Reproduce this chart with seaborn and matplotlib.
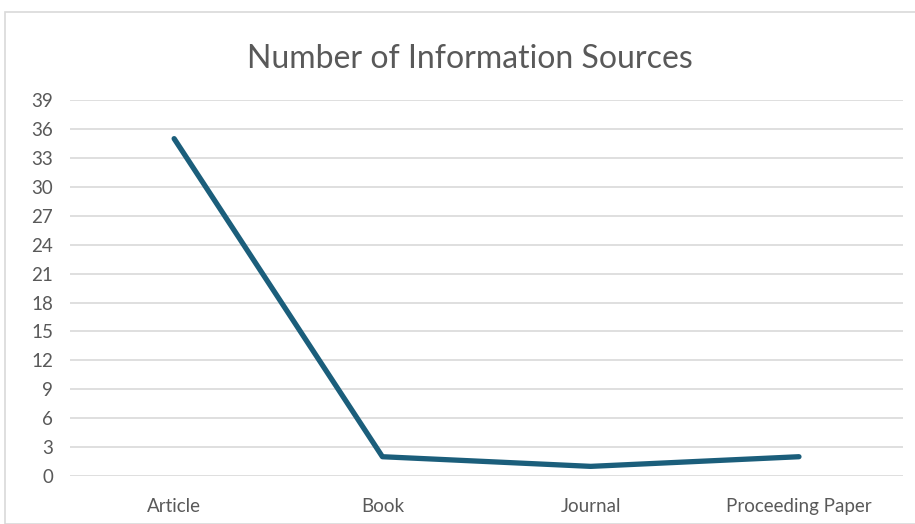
import numpy as np
import pandas as pd
import matplotlib
matplotlib.use("Agg")
import matplotlib.pyplot as plt
import seaborn as sns
from matplotlib.patches import Rectangle

# chart data
categories = ["Article", "Book", "Journal", "Proceeding Paper"]
counts = [35, 2, 1, 2]
y_ticks = list(range(0, 40, 3))

df = pd.DataFrame({"Source": categories, "Count": counts})

sns.set_theme(style="white")
plt.rcParams["font.family"] = ["Lato", "DejaVu Sans"]

fig = plt.figure(figsize=(9.15, 5.24), dpi=100)
ax = fig.add_axes([0.0765, 0.0916, 0.9105, 0.7174])

# outer chart border like the office chart frame
fig.patches.append(Rectangle((5 / 915, 0), 1.0, 1 - 12 / 524, transform=fig.transFigure,
                             fill=False, edgecolor="#d9d9d9", linewidth=1.2))

sns.lineplot(data=df, x="Source", y="Count", ax=ax, color="#1b5e7b",
             linewidth=3.8, sort=False, solid_capstyle="round")

ax.set_xlim(-0.5, len(categories) - 0.5)
ax.set_ylim(0, 39)
ax.set_yticks(y_ticks)
ax.yaxis.grid(True, color="#d9d9d9", linewidth=1.2)
ax.set_axisbelow(True)
for s in ax.spines.values():
    s.set_visible(False)
ax.tick_params(axis="both", length=0, labelsize=13.5, colors="#595959")
ax.tick_params(axis="x", pad=16)
ax.tick_params(axis="y", pad=12)
ax.set_xlabel("")
ax.set_ylabel("")

fig.text(0.514, 0.888, "Number of Information Sources", ha="center", va="center",
         fontsize=23, color="#595959")

fig.savefig("out.png", dpi=100)
